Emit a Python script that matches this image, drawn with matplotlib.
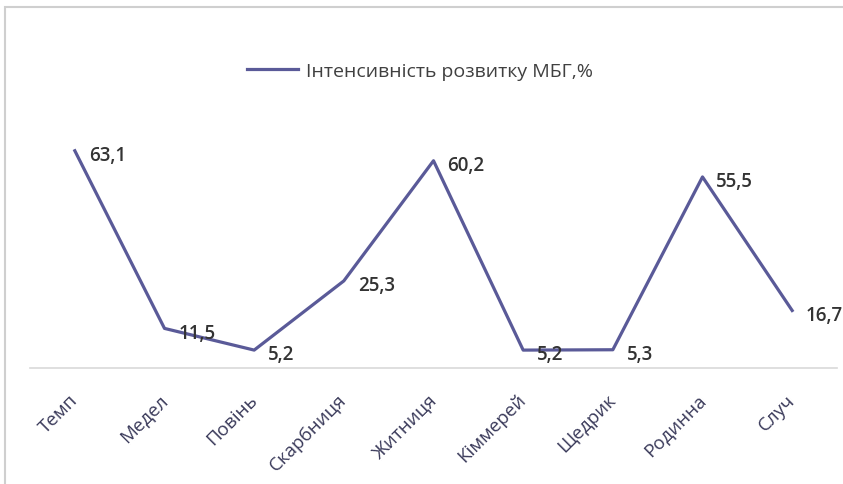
import matplotlib
matplotlib.use("Agg")
import matplotlib.pyplot as plt
from matplotlib.patches import Rectangle
from matplotlib.transforms import ScaledTranslation

categories = ["Темп", "Медел", "Повінь", "Скарбниця", "Житниця", "Кіммерей", "Щедрик", "Родинна", "Случ"]
values = [63.1, 11.5, 5.2, 25.3, 60.2, 5.2, 5.3, 55.5, 16.7]
labels = ["63,1", "11,5", "5,2", "25,3", "60,2", "5,2", "5,3", "55,5", "16,7"]
series_name = "Інтенсивність розвитку МБГ,%"

plt.rcParams['font.family'] = ['Open Sans', 'DejaVu Sans']

W, H = 843, 485
fig = plt.figure(figsize=(W / 100, H / 100), dpi=100)

# outer chart frame
fig.patches.append(Rectangle((5 / W, -0.05), 1.1, 1 - 8 / H + 0.05, transform=fig.transFigure,
                             fill=False, edgecolor="#cfcfcf", linewidth=1.5))

ax = fig.add_axes([30 / W, 1 - 369 / H, (837 - 30) / W, (369 - 128) / H])
x = list(range(len(categories)))
line, = ax.plot(x, values, color="#5a5a98", linewidth=2.3, label=series_name)
ax.set_xlim(-0.5, len(categories) - 0.5)
ax.set_ylim(0, 70)

for xi, v, t in zip(x, values, labels):
    ax.annotate(t, (xi, v), xytext=(10, -3), textcoords="offset points",
                ha="left", va="center", fontsize=13.5, fontweight="semibold", color="#333333")

for s in ["top", "right", "left"]:
    ax.spines[s].set_visible(False)
ax.spines["bottom"].set_color("#d9d9d9")
ax.spines["bottom"].set_linewidth(1.2)
ax.set_yticks([])
ax.set_xticks(x)
ax.set_xticklabels(categories, rotation=45, ha="right", rotation_mode="anchor",
                   fontsize=13.5, color="#3a3a5a")
ax.tick_params(axis="x", length=0, pad=16)
for lab in ax.get_xticklabels():
    lab.set_transform(lab.get_transform() + ScaledTranslation(-6 / 100, 0, fig.dpi_scale_trans))

fig.legend(handles=[line], labels=[series_name], loc="center",
           bbox_to_anchor=(420 / W, 1 - 72 / H), frameon=False, fontsize=14,
           handlelength=2.6, handletextpad=0.4, labelcolor="#404040")

fig.savefig("out.png", dpi=100)
